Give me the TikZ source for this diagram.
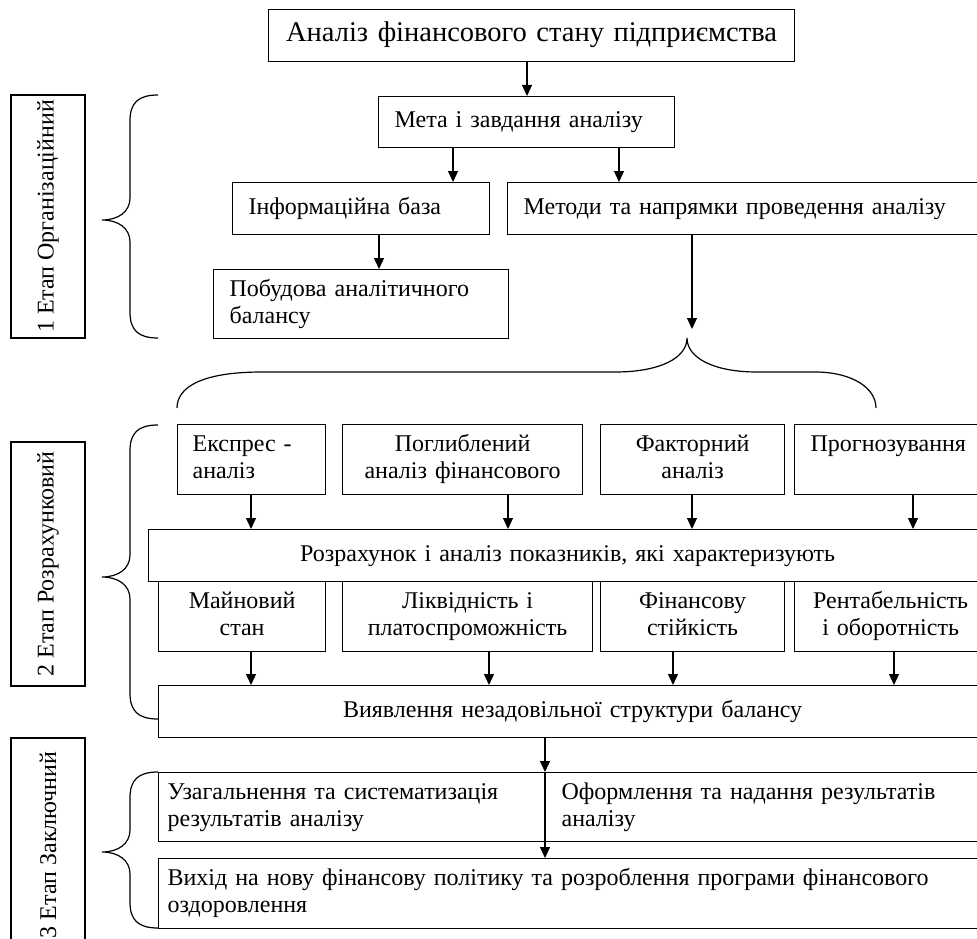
\documentclass[tikz,border=0pt]{standalone}
\usepackage{fontspec}
\setmainfont{Liberation Serif}
\usetikzlibrary{arrows.meta}
\newcommand\myfont{\fontsize{24}{27}\selectfont}
\newcommand\mytitlefont{\fontsize{28.5}{32}\selectfont}
\newcommand\stagebrace[3]{%
  \draw[brc] (158,#1) .. controls (138,#1) and (130,#1+8) .. (130,#1+26)
    -- (130,#2-22) .. controls (130,#2-8) and (118,#2) .. (102,#2)
    .. controls (118,#2) and (130,#2+8) .. (130,#2+22)
    -- (130,#3-26) .. controls (130,#3-8) and (138,#3) .. (158,#3);}
\begin{document}
\begin{tikzpicture}[x=1pt,y=-1pt,
  box/.style={draw, line width=1.2pt, anchor=north west, inner ysep=0pt, font=\myfont,
    execute at begin node={\strut}, execute at end node={\strut}},
  lbox/.style={box, align=left, inner xsep=16pt},
  cbox/.style={box, align=center, inner xsep=2pt},
  stagebox/.style={draw, line width=1.2pt, rotate=90, minimum height=74pt, inner sep=0pt, font=\myfont},
  arr/.style={line width=1.2pt, -{Triangle[length=11pt,width=10pt]}},
  brc/.style={line width=1.2pt},
]
\useasboundingbox (0,0) rectangle (977,939);
\clip (0,0) rectangle (977,939);

% stage labels
\node[stagebox, minimum width=243pt] (st1) at (48,216.5) {1 Етап Організаційний};
\node[stagebox, minimum width=244pt] (st2) at (48,564) {2 Етап Розрахунковий};
\node[stagebox, minimum width=214pt] (st3) at (48,845) {3 Етап Заключний};

% boxes
\node[cbox, font=\mytitlefont, text width=522pt, minimum height=52pt] (title) at (268,9) {Аналіз фінансового стану підприємства};
\node[lbox, text width=264pt, minimum height=51pt] (meta) at (378,96) {Мета і завдання аналізу};
\node[lbox, text width=225pt, minimum height=52pt] (info) at (232,182) {Інформаційна база};
\node[lbox, text width=447pt, minimum height=52pt] (metody) at (507,182) {Методи та напрямки проведення аналізу};
\node[lbox, text width=263pt, minimum height=69pt] (pobud) at (213,269) {Побудова аналітичного\\балансу};

\node[box, align=left, inner xsep=15pt, text width=118pt, minimum height=70pt] (ekspres) at (177,424) {Експрес -\\аналіз};
\node[cbox, text width=236pt, minimum height=70pt] (pogl) at (342,424) {Поглиблений\\аналіз фінансового};
\node[cbox, text width=180pt, minimum height=70pt] (fakt) at (600,424) {Факторний\\аналіз};
\node[lbox, text width=168pt, minimum height=70pt] (progn) at (794,424) {Прогнозування\\\mbox{}};

\node[cbox, text width=834pt, minimum height=52pt] (rozr) at (148,529) {Розрахунок і аналіз показників, які характеризують};

\node[cbox, text width=163pt, minimum height=70pt] (mayn) at (158,581) {Майновий\\стан};
\node[cbox, text width=246pt, minimum height=70pt] (likv) at (342,581) {Ліквідність і\\платоспроможність};
\node[cbox, text width=180pt, minimum height=70pt] (fin) at (600,581) {Фінансову\\стійкість};
\node[cbox, text width=188pt, minimum height=70pt] (rent) at (794,581) {Рентабельність\\і оборотність};

\node[cbox, text width=824pt, minimum height=52pt] (vyav) at (158,685) {Виявлення незадовільної структури балансу};

\node[box, align=left, inner xsep=9pt, text width=369pt, minimum height=69pt] (uzag) at (158,772) {Узагальнення та систематизація\\результатів аналізу};
\node[lbox, text width=409pt, minimum height=69pt] (oform) at (545,772) {Оформлення та надання результатів\\аналізу};
\node[box, align=left, inner xsep=9pt, text width=810pt, minimum height=70pt] (vyhid) at (158,858) {Вихід на нову фінансову політику та розроблення програми фінансового\\оздоровлення};

% arrow columns
\coordinate (c1) at (527,0);
\coordinate (c2) at (453,0);
\coordinate (c3) at (619,0);
\coordinate (c4) at (379,0);
\coordinate (c5) at (692,0);
\coordinate (k1) at (251,0);
\coordinate (k2) at (508,0);
\coordinate (k3) at (692,0);
\coordinate (k4) at (913,0);
\coordinate (m1) at (251,0);
\coordinate (m2) at (489,0);
\coordinate (m3) at (673,0);
\coordinate (m4) at (894,0);
\coordinate (barr) at (692,329);

\draw[arr] (title.south -| c1) -- (meta.north -| c1);
\draw[arr] (meta.south -| c2) -- (info.north -| c2);
\draw[arr] (meta.south -| c3) -- (metody.north -| c3);
\draw[arr] (info.south -| c4) -- (pobud.north -| c4);
\draw[arr] (metody.south -| c5) -- (barr);

\draw[arr] (ekspres.south -| k1) -- (rozr.north -| k1);
\draw[arr] (pogl.south -| k2) -- (rozr.north -| k2);
\draw[arr] (fakt.south -| k3) -- (rozr.north -| k3);
\draw[arr] (progn.south -| k4) -- (rozr.north -| k4);

\draw[arr] (mayn.south -| m1) -- (vyav.north -| m1);
\draw[arr] (likv.south -| m2) -- (vyav.north -| m2);
\draw[arr] (fin.south -| m3) -- (vyav.north -| m3);
\draw[arr] (rent.south -| m4) -- (vyav.north -| m4);

\draw[arr] (vyav.south -| oform.north west) -- (oform.north west);
\draw[arr] (oform.north west) -- (vyhid.north -| oform.north west);

% braces
\stagebrace{95}{220}{338}
\stagebrace{425}{577}{719}
\stagebrace{772}{852}{928}

\draw[brc] (177,408) .. controls (177,388) and (200,372) .. (262,372)
  -- (615,372) .. controls (660,372) and (687,358) .. (687,338)
  .. controls (687,358) and (714,372) .. (757,372)
  -- (815,372) .. controls (852,372) and (876,388) .. (876,408);
\end{tikzpicture}
\end{document}
